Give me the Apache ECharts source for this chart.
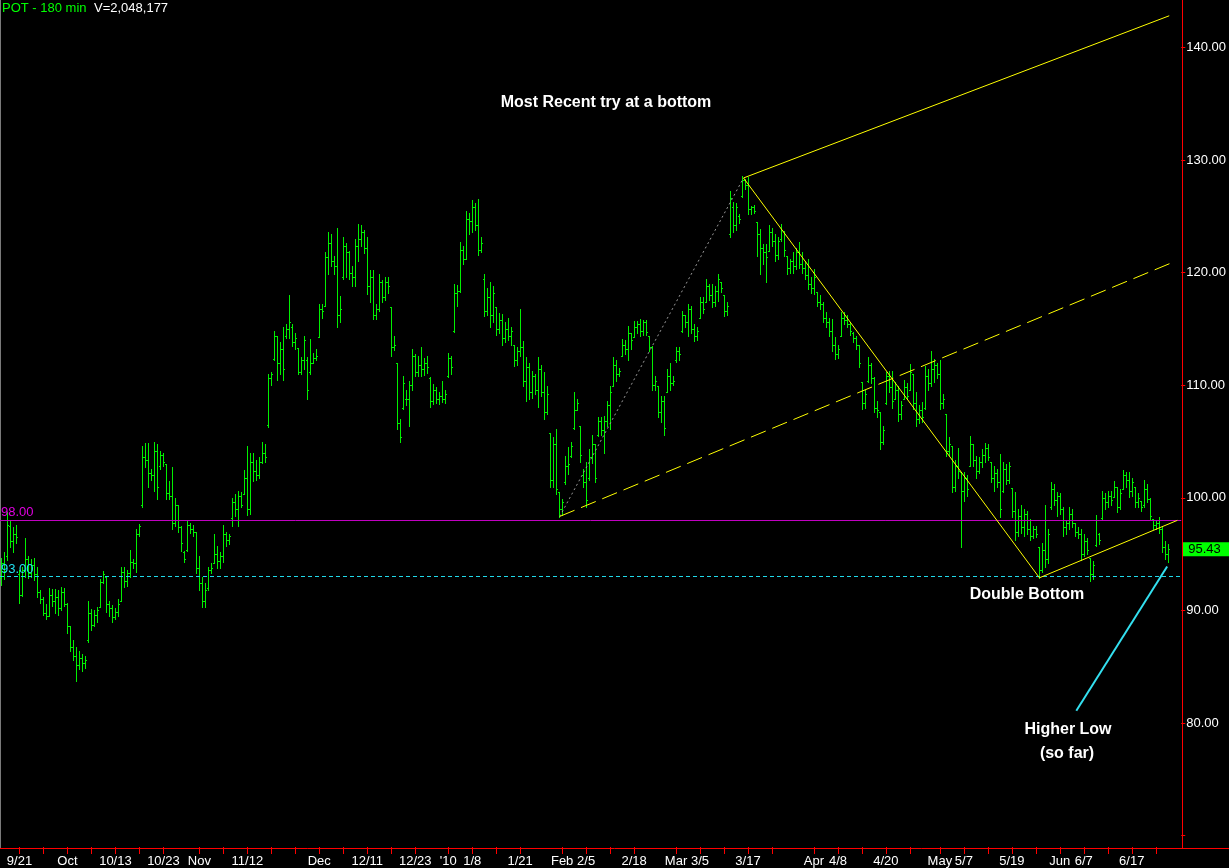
<!DOCTYPE html>
<html><head><meta charset="utf-8">
<script src="https://cdn.jsdelivr.net/npm/echarts@6/dist/echarts.min.js"></script>
<style>html,body{margin:0;padding:0;background:#000;}#c{width:1229px;height:868px;}</style>
</head><body><div id="c"></div>
<script>
// 180-minute OHLC bars [open, high, low, close], grouped by month
const sep09 = [[93.0,94.7,92.3,94.2],[94.2,95.2,92.8,93.5],[94.8,98.7,94.5,97.6],[97.5,98.0,95.6,96.2],[96.2,97.4,95.2,96.8],[96.8,97.6,96.0,96.5],[93.2,93.6,90.7,91.4],[91.4,93.9,91.3,93.6],[93.6,96.4,93.0,94.6],[94.6,94.8,92.9,93.3],[93.3,94.6,93.0,94.0],[94.0,94.7,92.7,93.2],[93.2,93.9,91.2,91.6],[91.6,91.8,90.7,91.0],[91.0,91.2,89.6,89.8],[89.8,90.6,89.2,89.5],[89.5,92.0,89.5,91.4],[91.4,91.9,90.4,90.8],[90.8,91.9,89.8,91.2],[91.2,91.8,89.6,90.2],[90.2,92.1,90.0,91.6],[91.6,92.0,90.4,90.6]];
const oct09 = [[90.6,90.7,88.0,88.6],[88.6,88.6,86.4,86.8],[86.8,87.4,85.6,86.0],[86.0,86.8,83.7,85.2],[85.2,86.4,84.8,85.8],[85.8,86.1,84.6,85.3],[85.3,86.0,84.9,85.6],[87.4,90.8,87.2,89.8],[89.8,90.1,88.3,88.7],[88.7,90.0,88.6,89.6],[89.6,90.3,89.0,90.0],[90.3,92.8,90.3,92.5],[92.5,93.5,92.4,93.2],[93.0,93.1,89.9,90.6],[90.6,90.8,89.5,90.2],[90.2,90.5,89.0,89.4],[89.4,90.2,89.2,89.9],[89.9,91.0,89.5,90.6],[90.8,93.9,90.8,93.4],[93.4,93.9,92.1,92.6],[92.6,93.6,92.2,93.3],[93.3,95.4,93.0,94.3],[94.3,94.6,93.8,94.2],[94.2,97.2,93.4,96.8],[96.8,97.7,96.6,97.5],[99.4,104.6,99.2,103.6],[103.6,104.9,102.7,103.4],[103.4,104.9,101.0,102.2],[102.2,102.6,101.6,102.0],[102.0,105.0,100.6,104.2],[104.2,104.8,99.9,101.0],[102.8,104.2,102.6,103.8],[103.8,104.0,102.8,103.2],[103.0,103.0,99.9,100.4],[100.4,101.5,99.9,100.2],[100.2,102.7,97.2,97.8],[97.8,100.0,97.5,99.4],[99.4,99.4,97.0,97.4],[97.4,97.5,95.3,96.0],[95.2,95.3,94.3,94.6],[95.4,98.0,95.3,97.6],[97.6,97.8,96.9,97.2],[97.2,97.6,96.6,97.0],[97.0,97.0,93.3,93.8]];
const nov09 = [[93.8,94.8,91.8,92.4],[92.4,93.0,90.3,90.8],[90.8,92.4,90.3,91.8],[92.0,93.9,91.8,93.6],[93.6,94.2,93.3,93.8],[94.2,96.8,94.2,95.0],[95.0,95.7,93.8,94.4],[94.4,95.2,93.8,94.8],[94.8,97.6,94.3,96.8],[96.8,97.0,95.7,96.3],[96.3,96.8,95.9,96.6],[98.2,100.0,97.5,99.6],[99.6,100.3,98.4,99.0],[99.0,100.6,97.5,100.2],[100.2,100.5,99.2,99.4],[100.3,102.5,100.3,101.8],[101.8,104.6,98.5,99.0],[99.0,104.0,98.6,103.2],[103.2,104.0,101.5,102.4],[102.4,103.4,101.6,102.0],[102.0,103.6,101.8,103.2],[103.2,105.0,103.1,104.0],[104.0,104.8,103.2,103.6],[106.5,111.0,106.3,110.6],[110.6,111.2,110.0,111.0],[112.3,114.8,112.2,114.4],[114.4,114.4,110.5,112.0],[112.0,113.8,111.0,113.2],[113.2,115.2,110.5,111.4],[114.4,115.4,114.2,115.0],[115.0,118.0,114.2,115.6],[115.2,115.4,113.5,113.8],[113.8,114.6,113.2,114.2],[113.3,113.3,111.0,111.2],[111.2,112.5,111.0,112.2],[112.2,114.4,111.4,114.0],[112.2,112.5,108.8,109.6],[111.2,114.1,111.0,112.0],[112.0,112.9,112.0,112.4],[112.4,113.2,112.2,112.6]];
const dec09 = [[114.3,117.2,114.3,116.8],[116.8,117.2,116.0,116.6],[117.0,121.8,117.0,121.4],[121.4,123.6,119.9,122.6],[122.6,123.4,120.6,121.0],[121.0,121.5,119.9,120.6],[120.6,124.0,115.2,116.2],[116.2,117.9,115.6,116.8],[119.6,123.2,119.4,122.4],[122.4,122.6,119.6,121.8],[121.8,121.9,119.4,120.0],[120.0,120.6,118.8,119.6],[119.6,123.0,118.8,122.4],[122.4,124.3,121.0,123.0],[123.0,124.2,122.4,123.6],[123.6,123.8,121.7,122.2],[122.2,123.2,118.1,118.8],[118.8,120.2,117.4,119.6],[119.6,120.2,115.9,116.2],[116.2,117.2,115.9,116.8],[116.8,119.9,116.6,119.2],[119.2,119.3,117.4,117.8],[117.8,119.6,117.6,119.2],[119.2,119.6,118.2,118.8],[116.9,116.9,112.6,113.4],[113.4,114.4,113.1,113.6],[112.0,112.0,106.1,106.6],[106.6,107.0,105.0,105.4],[108.0,110.8,107.9,110.2],[108.8,109.6,108.2,108.8],[108.8,110.4,106.4,110.0],[110.0,113.2,109.6,112.6],[112.6,112.8,110.8,111.2],[111.2,112.6,110.8,111.8],[111.8,113.4,110.8,111.4],[111.4,112.4,110.9,112.0],[112.0,112.6,111.1,111.6],[110.6,110.7,108.1,108.6],[108.6,110.1,108.3,109.6],[109.6,109.8,108.4,108.8],[108.8,109.4,108.3,109.0],[109.0,110.4,108.5,108.8],[108.8,109.6,108.4,109.2]];
const jan10 = [[110.8,112.9,110.7,112.4],[112.4,112.6,111.0,111.6],[114.8,119.0,114.7,118.2],[118.2,118.9,117.0,118.4],[118.4,122.7,118.3,122.0],[122.0,122.4,120.8,121.2],[121.2,125.5,121.2,124.8],[124.8,125.3,123.4,124.6],[124.6,126.4,123.6,125.8],[125.8,126.2,123.8,124.2],[124.2,126.5,121.6,122.0],[122.0,123.2,121.8,122.6],[119.4,119.9,116.1,116.6],[116.6,118.6,116.2,117.8],[117.8,119.2,115.2,116.2],[116.2,118.8,115.6,118.2],[116.9,116.9,114.5,115.0],[115.0,116.4,114.6,115.8],[115.8,116.3,113.6,114.2],[114.2,115.6,113.8,115.0],[115.0,116.0,114.0,114.4],[114.4,115.2,113.6,114.8],[113.6,113.6,111.7,112.2],[112.2,113.4,111.8,113.0],[113.0,116.8,112.6,113.4],[113.4,113.9,109.9,110.4],[110.4,112.5,108.6,111.6],[111.6,112.0,108.8,109.4],[109.4,111.3,108.9,110.8],[110.8,111.0,109.2,109.6],[109.6,112.5,108.1,111.4],[111.4,111.8,109.0,109.4],[109.4,111.2,107.0,107.6],[107.6,109.9,107.4,109.2],[105.8,105.8,101.0,101.6],[101.6,105.4,101.0,104.8],[104.8,106.1,100.3,100.8],[100.5,100.5,98.3,99.0]];
const feb10 = [[99.0,99.9,98.5,99.6],[101.4,103.7,101.2,102.8],[102.8,104.5,102.1,103.0],[103.7,105.0,103.6,104.6],[106.2,109.4,106.1,107.8],[107.8,108.8,107.8,108.4],[106.4,106.4,103.2,103.8],[102.0,102.6,101.0,101.4],[101.4,103.2,99.2,99.8],[101.8,104.3,101.6,103.6],[103.6,105.6,103.1,104.8],[104.8,104.8,101.4,101.8],[105.6,107.2,105.5,106.8],[106.8,107.2,105.6,106.0],[106.0,107.3,104.0,106.8],[106.8,108.6,106.4,108.2],[108.2,109.9,106.1,109.4],[109.9,112.5,109.9,111.8],[111.8,112.2,110.4,111.0],[111.0,111.5,110.8,111.3],[112.6,114.1,112.6,113.6],[113.6,114.0,112.8,113.2],[113.2,115.3,112.2,114.6],[114.6,114.6,113.2,114.0],[114.3,115.7,114.3,115.2],[115.2,115.7,114.6,115.4],[115.4,115.9,114.4,114.8],[114.8,115.8,114.5,115.6],[115.6,115.8,114.5,114.7],[114.4,114.4,113.0,113.4],[113.4,113.5,109.6,110.0],[110.0,110.8,109.6,110.4],[109.9,109.9,107.2,107.6],[107.6,109.0,106.7,108.6],[108.6,109.0,105.6,106.2],[109.4,111.4,109.4,110.8],[110.8,112.0,109.6,110.2],[110.2,110.8,110.0,110.4]];
const mar10 = [[112.2,113.4,112.1,113.0],[113.0,113.4,112.2,112.8],[114.8,116.6,114.7,116.2],[116.2,116.2,115.2,115.6],[115.6,117.2,114.4,116.8],[116.8,117.0,114.6,115.0],[115.0,115.4,113.9,114.4],[114.4,115.2,114.0,114.8],[116.0,117.8,116.0,117.4],[117.4,117.8,116.4,116.8],[117.4,119.4,117.4,118.8],[118.8,119.0,117.6,118.0],[118.0,119.0,116.9,117.4],[117.4,118.8,117.0,118.4],[118.4,119.9,117.5,119.4],[119.2,119.2,118.3,118.6],[118.0,118.0,116.1,116.6],[116.6,117.4,116.2,117.0],[123.4,127.2,123.2,126.6],[125.8,126.3,123.6,124.2],[124.2,126.2,123.8,125.8],[125.0,125.2,124.4,124.8],[126.8,128.6,126.7,128.2],[128.2,128.3,127.4,127.8],[127.8,128.5,125.2,125.6],[125.6,125.9,125.2,125.8],[125.8,126.0,125.3,125.5],[124.5,124.5,121.5,123.4],[123.4,123.9,119.9,122.2],[122.2,122.5,120.8,121.8],[121.8,122.5,119.2,121.4],[121.9,124.2,121.9,123.6],[123.6,124.0,122.4,122.8],[122.8,123.4,121.0,121.6],[121.6,123.2,121.2,122.8],[123.0,124.3,122.8,123.8],[123.7,123.7,121.5,122.0],[121.5,121.5,119.9,120.4],[120.4,121.2,120.0,121.0],[121.0,121.8,120.0,120.6],[120.6,122.2,120.3,121.8],[121.8,122.7,120.4,120.8],[120.8,121.8,120.0,120.4],[120.4,121.0,119.4,119.8],[119.8,121.2,118.5,119.0],[119.0,119.6,118.2,118.6]];
const apr10 = [[118.6,120.3,118.1,119.6],[118.3,118.3,117.0,117.4],[117.4,118.0,116.8,117.2],[117.2,117.4,115.6,116.0],[116.0,116.5,115.2,115.6],[115.6,116.0,114.4,114.8],[114.8,115.9,113.0,113.6],[113.6,114.3,112.3,112.8],[112.8,113.6,112.4,113.2],[114.4,116.5,114.4,116.0],[116.0,116.5,115.4,115.8],[115.8,116.2,115.2,115.4],[115.4,115.6,114.5,114.8],[114.6,114.7,113.8,114.2],[114.2,114.4,113.2,113.6],[113.6,113.6,111.6,112.0],[110.3,110.3,107.9,108.4],[108.4,109.6,108.0,109.2],[110.4,112.5,110.3,111.8],[111.8,112.0,110.2,110.6],[110.6,110.7,107.6,108.0],[108.0,108.6,107.2,107.8],[107.6,107.6,104.3,105.0],[105.0,106.4,104.8,106.0],[108.4,111.2,108.3,110.8],[110.8,111.3,109.4,109.8],[109.8,111.3,108.0,108.6],[108.8,110.3,108.8,109.6],[109.6,109.9,106.8,107.4],[107.4,108.6,107.0,108.2],[108.8,110.5,108.8,109.8],[109.8,110.2,108.8,109.0],[109.6,111.9,109.6,111.2],[111.0,111.0,107.9,108.4],[108.4,109.4,106.4,107.0],[107.0,108.2,106.6,107.8],[107.8,108.5,106.7,107.2],[108.0,111.7,107.9,110.8],[110.8,111.4,109.6,110.2],[110.2,113.0,109.9,111.4],[111.4,112.3,110.3,111.8],[111.8,112.0,110.6,111.0]];
const may10 = [[111.0,112.2,107.9,108.4],[108.4,109.2,108.0,108.8],[107.4,107.4,103.7,104.2],[104.2,105.4,103.8,104.8],[104.6,104.6,100.5,101.0],[101.0,103.4,100.6,102.8],[102.8,104.4,101.8,102.4],[102.3,102.3,95.6,100.6],[100.6,102.3,99.7,101.8],[101.8,102.0,100.2,100.8],[102.8,105.5,102.8,104.8],[104.8,104.8,102.8,103.4],[103.4,103.7,101.8,102.4],[102.4,103.6,102.2,103.2],[103.2,104.3,102.7,103.8],[103.8,104.9,103.2,104.4],[104.4,104.8,103.4,103.6],[103.2,103.2,101.4,101.8],[101.8,102.8,100.6,102.2],[102.2,102.6,101.0,101.4],[101.4,103.9,98.3,99.0],[100.6,103.2,100.5,102.6],[102.6,103.0,101.2,101.6],[101.6,103.2,101.3,102.8],[100.9,100.9,98.3,98.8],[98.8,100.5,96.3,97.0],[97.0,99.0,96.6,98.4],[98.4,99.4,96.9,97.4],[97.4,99.0,96.6,98.6],[98.6,98.8,96.8,97.2],[97.2,98.1,96.3,96.6],[96.6,97.5,96.4,97.2],[97.2,97.5,96.5,96.8],[95.6,95.6,92.9,93.6],[93.6,96.0,93.4,95.4],[95.4,99.4,93.9,94.6],[94.6,97.2,94.2,96.8],[99.2,101.4,99.0,100.8],[100.8,101.2,99.4,99.8],[99.8,100.5,98.4,100.2]];
const jun10 = [[100.2,100.4,98.6,99.0],[99.0,99.2,96.6,97.4],[97.4,98.0,96.8,97.8],[97.8,99.2,97.2,98.6],[98.6,99.0,97.4,97.8],[97.8,97.8,96.6,97.0],[97.0,97.4,96.4,96.8],[96.8,97.2,94.5,95.0],[95.0,96.8,94.8,96.2],[96.2,96.4,95.0,95.4],[94.7,94.7,92.6,93.2],[93.2,94.4,92.8,94.0],[95.8,98.5,95.7,98.0],[96.8,96.9,95.9,96.3],[98.2,100.6,98.1,100.0],[100.0,100.4,99.0,99.6],[99.6,100.6,99.2,100.2],[100.2,100.6,99.4,99.8],[100.1,101.5,100.1,101.0],[101.0,101.0,98.7,99.2],[99.2,100.8,99.0,100.4],[100.8,102.5,100.8,102.0],[102.0,102.3,101.0,101.6],[101.6,102.3,100.1,100.6],[100.6,101.8,100.2,101.4],[101.0,101.0,99.2,99.6],[99.6,100.4,99.2,100.0],[99.7,99.7,98.8,99.2],[99.4,101.6,99.2,100.8],[100.8,101.2,99.6,99.9],[99.9,100.0,98.1,98.4],[98.1,98.1,97.2,97.6],[97.6,98.0,97.2,97.8],[97.8,98.3,96.9,97.2],[97.2,97.4,95.2,95.6],[95.6,96.2,94.6,95.0],[95.0,95.9,94.3,95.43]];

// axis ticks (bar position) and their labels
const tickPos = [6,14,22,30,38,46,54,66,74,82,90,98,106,114,122,130,138,149,157,165,173,187,195,203,211,225,233,241,249,257,271,279,287,295,303,313,321,329,337,345,353,361,369,377,385];
const tickLabels = ['9/21','','Oct','','10/13','','10/23','Nov','','11/12','','','Dec','','12/11','','12/23',"'10",'1/8','','1/21','Feb','2/5','','2/18','Mar','3/5','','3/17','','Apr','4/8','','4/20','','May','5/7','','5/19','','Jun','6/7','','6/17',''];
const priceTicks = [70,80,90,100,110,120,130,140];
const priceLabels = [80,90,100,110,120,130,140];

// annotation levels and pitchfork anchors [bar position, price]
const level98 = 98.00, level93 = 93.00, lastPrice = 95.43;
const pitchA = [186.2, 98.35], pitchB = [247.5, 128.4], pitchC = [346.2, 92.9];
const upperEnd = [389.5, 142.8], medianEnd = [391.5, 121.0], lowerEnd = [392.2, 98.0];
const pointer = [[388.8, 93.9], [358.5, 81.1]];

const allBars = [].concat(sep09, oct09, nov09, dec09, jan10, feb10, mar10, apr10, may10, jun10)
  .map((b, i) => [i, b[0], b[1], b[2], b[3]]);

const FONT = '"Liberation Sans", Arial, sans-serif';
const GREEN = '#00f000';
const labelMap = {};
tickPos.forEach((t, i) => { labelMap[t] = tickLabels[i]; });

function renderBar(params, api) {
  const x = api.value(0);
  const pO = api.coord([x, api.value(1)]);
  const pH = api.coord([x, api.value(2)]);
  const pL = api.coord([x, api.value(3)]);
  const pC = api.coord([x, api.value(4)]);
  const px = Math.round(pH[0]);
  const yo = Math.round(pO[1]) + 0.5, yc = Math.round(pC[1]) + 0.5;
  const st = { stroke: GREEN, lineWidth: 1 };
  return { type: 'group', children: [
    { type: 'line', shape: { x1: px + 0.5, y1: Math.round(pH[1]), x2: px + 0.5, y2: Math.round(pL[1]) + 1 }, style: st },
    { type: 'line', shape: { x1: px - 1, y1: yo, x2: px, y2: yo }, style: st },
    { type: 'line', shape: { x1: px + 1, y1: yc, x2: px + 2, y2: yc }, style: st }
  ]};
}

function seg(points, color, type, width) {
  return { type: 'line', data: points, symbol: 'none', silent: true, z: 5,
    lineStyle: { color: color, width: width || 1, type: type || 'solid' }, animation: false };
}

const chart = echarts.init(document.getElementById('c'), null, { renderer: 'canvas' });
chart.setOption({
  backgroundColor: '#000',
  animation: false,
  grid: { left: 0, right: 47, top: 0, bottom: 20 },
  xAxis: {
    type: 'value', min: -0.5, max: 393.5, position: 'bottom',
    axisLine: { show: false, onZero: false },
    axisTick: { show: true, length: 7, lineStyle: { color: '#ff0000' }, customValues: tickPos },
    axisLabel: { customValues: tickPos.filter((t, i) => tickLabels[i] !== ''),
      formatter: v => labelMap[v] || '', color: '#ffffff', fontSize: 13, fontFamily: FONT, margin: 8 },
    splitLine: { show: false }
  },
  yAxis: {
    type: 'value', position: 'right', min: 69.0, max: 144.2,
    axisLine: { show: false, onZero: false },
    axisTick: { show: true, length: 4, lineStyle: { color: '#ff0000' }, customValues: priceTicks },
    axisLabel: { customValues: priceLabels, formatter: v => Number(v).toFixed(2),
      color: '#ffffff', fontSize: 13, fontFamily: FONT, margin: 5 },
    splitLine: { show: false }
  },
  series: [
    {
      type: 'custom', data: allBars, renderItem: renderBar, clip: true, z: 3,
      encode: { x: 0, y: [1, 2, 3, 4] }, silent: true
    },
    {
      type: 'line', data: [[389, lastPrice]], symbol: 'none', showSymbol: false, clip: false, silent: true,
      lineStyle: { opacity: 0 }, z: 6,
      markLine: {
        symbol: 'none', silent: true, animation: false,
        data: [
          { yAxis: level98, lineStyle: { color: '#c000c0', width: 1, type: 'solid' },
            label: { show: true, position: 'insideStartTop', formatter: p => Number(p.value).toFixed(2),
              color: '#e000e0', fontSize: 13, fontFamily: FONT, distance: 1 } },
          { yAxis: level93, lineStyle: { color: '#20d8e8', width: 1, type: [4, 3] },
            label: { show: true, position: 'insideStartTop', formatter: p => Number(p.value).toFixed(2),
              color: '#20e0f0', fontSize: 13, fontFamily: FONT, distance: 1 } },
          { yAxis: lastPrice, lineStyle: { color: 'rgba(0,0,0,0)', width: 1, opacity: 1 },
            label: { show: true, position: 'end', formatter: p => Number(p.value).toFixed(2),
              color: '#000000', backgroundColor: '#00ff00', fontSize: 13, fontFamily: FONT,
              padding: [1, 9, 0, 6], distance: 1, opacity: 1 } }
        ]
      }
    },
    seg([pitchA, pitchB], '#9a9a9a', [2, 3]),
    seg([pitchB, pitchC], '#ffff00'),
    seg([pitchB, upperEnd], '#ffff00'),
    seg([pitchA, medianEnd], '#ffff00', [16, 7]),
    seg([pitchC, lowerEnd], '#ffff00'),
    seg(pointer, '#33e0f0', 'solid', 2)
  ],
  graphic: [
    { type: 'rect', left: 0, top: 0, shape: { x: 0, y: 0, width: 1, height: 848 }, style: { fill: '#7a7a7a' }, silent: true },
    { type: 'line', shape: { x1: 0, y1: 848.5, x2: 1229, y2: 848.5 }, style: { stroke: '#ff0000', lineWidth: 1 }, silent: true, z: 10 },
    { type: 'line', shape: { x1: 1182.5, y1: 0, x2: 1182.5, y2: 848 }, style: { stroke: '#ff0000', lineWidth: 1 }, silent: true, z: 10 },
    { type: 'text', left: 2, top: 2, style: { text: 'POT - 180 min', fill: '#00ff00', font: '13px ' + FONT } },
    { type: 'text', left: 94, top: 2, style: { text: 'V=2,048,177', fill: '#ffffff', font: '13px ' + FONT } },
    { type: 'text', x: 606, y: 103, style: { text: 'Most Recent try at a bottom', fill: '#ffffff', font: 'bold 16px ' + FONT, textAlign: 'center', textVerticalAlign: 'middle' } },
    { type: 'text', x: 1027, y: 595, style: { text: 'Double Bottom', fill: '#ffffff', font: 'bold 16px ' + FONT, textAlign: 'center', textVerticalAlign: 'middle' } },
    { type: 'text', x: 1068, y: 730, style: { text: 'Higher Low', fill: '#ffffff', font: 'bold 16px ' + FONT, textAlign: 'center', textVerticalAlign: 'middle' } },
    { type: 'text', x: 1067, y: 754, style: { text: '(so far)', fill: '#ffffff', font: 'bold 16px ' + FONT, textAlign: 'center', textVerticalAlign: 'middle' } }
  ]
});
</script>
</body></html>
